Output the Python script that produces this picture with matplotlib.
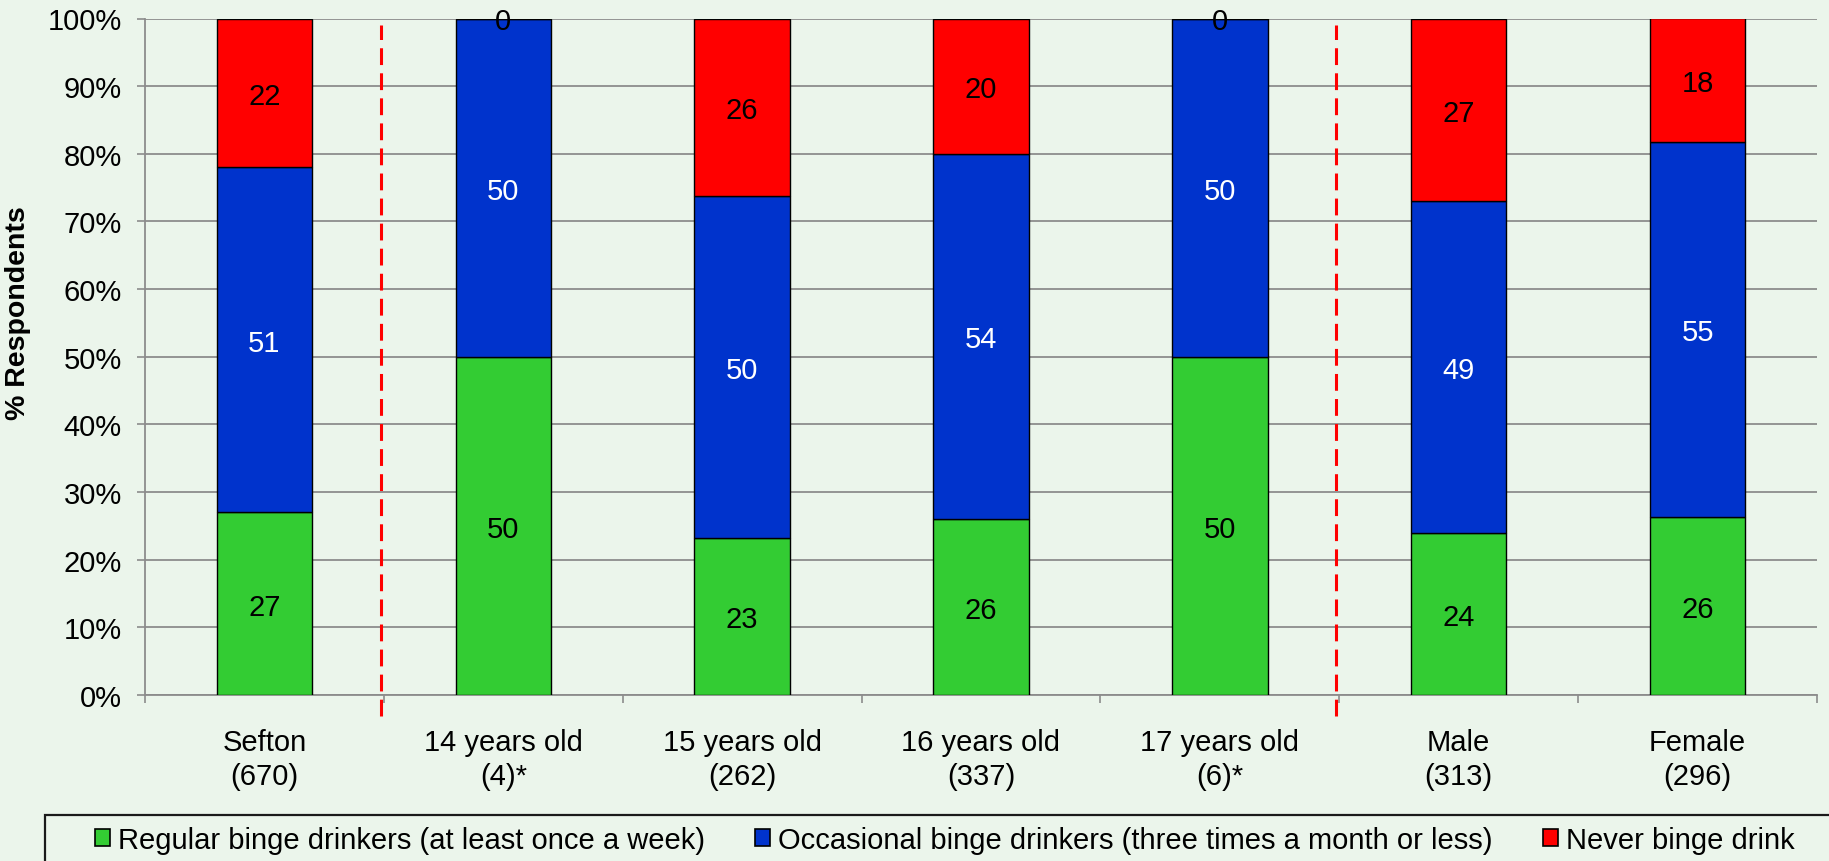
import matplotlib
matplotlib.use("Agg")
import matplotlib.pyplot as plt
from matplotlib.patches import Patch, Rectangle
import numpy as np

plt.rcParams["font.family"] = ["Liberation Sans", "DejaVu Sans"]

# Survey groups and respondent counts
groups = ["Sefton", "14 years old", "15 years old", "16 years old",
          "17 years old", "Male", "Female"]
counts = ["(670)", "(4)*", "(262)", "(337)", "(6)*", "(313)", "(296)"]

# Percentage of respondents in each group (rounded)
regular = [27, 50, 23, 26, 50, 24, 26]
occasional = [51, 50, 50, 54, 50, 49, 55]
never = [22, 0, 26, 20, 0, 27, 18]

series_names = ["Regular binge drinkers (at least once a week)",
                "Occasional binge drinkers (three times a month or less)",
                "Never binge drink"]
series_colors = ["#33CC33", "#0033CC", "#FF0000"]
text_colors = ["black", "white", "black"]

bg = "#EBF5EB"
grid_col = "#8C8C8C"
fs = 21

fig = plt.figure(figsize=(18.29, 8.62), dpi=100, facecolor=bg)
W, H = 1829, 862
ax = fig.add_axes([145 / W, 1 - 696 / H, 1672 / W, (696 - 19.5) / H])
ax.set_facecolor(bg)

values = np.array([regular, occasional, never], dtype=float)
totals = values.sum(axis=0)
shares = values / totals * 100.0  # 100% stacked

x = np.arange(len(groups))
bottom = np.zeros(len(groups))
for i in range(3):
    ax.bar(x, shares[i], width=0.40, bottom=bottom, color=series_colors[i],
           edgecolor="black", linewidth=1.0, zorder=3)
    for j in range(len(groups)):
        ax.text(x[j], bottom[j] + shares[i][j] / 2, f"{values[i][j]:.0f}",
                ha="center", va="center_baseline", fontsize=fs,
                color=text_colors[i], zorder=4)
    bottom += shares[i]

ax.set_xlim(-0.5, len(groups) - 0.5)
ax.set_ylim(0, 100)

# y axis
ax.set_yticks(np.arange(0, 101, 10))
ax.set_yticklabels([f"{v}%" for v in range(0, 101, 10)], fontsize=fs)
ax.yaxis.grid(True, color=grid_col, linewidth=1.3, zorder=0)
ax.tick_params(axis="y", length=5.8, width=1.2, color=grid_col, pad=11)
ax.set_ylabel("% Respondents", fontsize=20.5, fontweight="bold")
ax.yaxis.set_label_coords(-0.068, 0.566)

# x axis: labels at centres, ticks at category boundaries
ax.set_xticks(x)
ax.set_xticklabels([f"{g}\n{c}" for g, c in zip(groups, counts)],
                   fontsize=fs, linespacing=1.25)
ax.set_xticks(np.arange(-0.5, len(groups), 1.0), minor=True)
ax.tick_params(axis="x", which="major", length=0, pad=24)
ax.tick_params(axis="x", which="minor", length=6, width=1.2, color=grid_col)

for s in ["top", "right"]:
    ax.spines[s].set_visible(False)
for s in ["left", "bottom"]:
    ax.spines[s].set_color(grid_col)
    ax.spines[s].set_linewidth(1.3)
    ax.spines[s].set_zorder(2)

# dashed separators between overall / age / gender groups
for xs in [0.49, 4.485]:
    ax.plot([xs, xs], [-3.1, 99], color="#FF0000", linewidth=2.2,
            linestyle=(0, (5.5, 2.7)), clip_on=False, zorder=5)

# legend frame
fig.patches.append(Rectangle((45 / W, -0.1), 1.0, 0.1 + 1 - 816 / H,
                             transform=fig.transFigure, facecolor="none",
                             edgecolor="#1A1A1A", linewidth=1.6))

marker_x = [95, 755, 1543]
for name, col, mx in zip(series_names, series_colors, marker_x):
    fig.legend(handles=[Patch(facecolor=col, edgecolor="black", linewidth=1.2)],
               labels=[name], loc="center left",
               bbox_to_anchor=(mx / W, 1 - 841 / H), frameon=False,
               fontsize=fs, borderpad=0, borderaxespad=0,
               handlelength=0.5, handleheight=0.5, handletextpad=0.28)

fig.savefig("out.png", dpi=100, facecolor=bg)
